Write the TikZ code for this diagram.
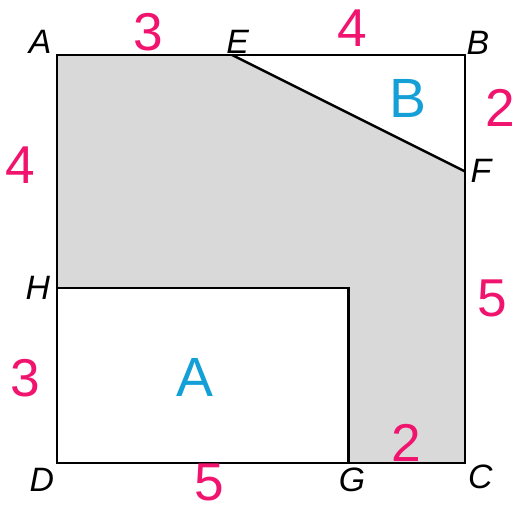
\documentclass[tikz,border=0pt]{standalone}
\usepackage{fontspec}
\setmainfont{Liberation Sans}
\usetikzlibrary{positioning}
\definecolor{lenpink}{RGB}{240,20,110}
\definecolor{areablue}{RGB}{20,160,215}

\begin{document}
\begin{tikzpicture}[line width=1.2pt,
    pt/.style={font=\fontsize{16.5}{16.5}\selectfont\itshape},
    len/.style={text=lenpink, inner sep=0pt, font=\fontsize{26}{26}\selectfont},
    reg/.style={text=areablue, font=\fontsize{27}{27}\selectfont}]

\useasboundingbox (-0.978,-0.823) rectangle (7.873,7.942);

% corner points
\coordinate (A) at (0,7);
\coordinate (E) at (3,7);
\coordinate (B) at (7,7);
\coordinate (F) at (7,5);
\coordinate (C) at (7,0);
\coordinate (G) at (5,0);
\coordinate (D) at (0,0);
\coordinate (H) at (0,3);
\coordinate (K) at (5,3);

% shaded part
\fill[black!15] (A) -- (E) -- (F) -- (C) -- (G) -- (K) -- (H) -- cycle;

\draw (A) -- (B) -- (C) -- (D) -- cycle;
\draw (E) -- (F);
\draw (H) -- (K) -- (G);

% point labels
\node[pt] (lA) at (-0.29,7.22) {A};
\node[pt] (lE) at (3.10,7.22) {E};
\node[pt] (lB) at (7.22,7.20) {B};
\node[pt] (lF) at (7.27,5.01) {F};
\node[pt] (lH) at (-0.33,3.00) {H};
\node[pt] (lD) at (-0.26,-0.29) {D};
\node[pt] (lG) at (5.06,-0.29) {G};
\node[pt] (lC) at (7.26,-0.24) {C};

% lengths
\node[len] (nAE) at (1.56,7.39) {3};
\node[len] (nEB) at (5.06,7.46) {4};
\node[len] (nBF) at (7.60,6.09) {2};
\node[len] (nAH) at (-0.63,5.11) {4};
\node[len] (nFC) at (7.46,2.83) {5};
\node[len] (nHD) at (-0.55,1.46) {3};
\node[len] (nDG) at (2.62,-0.34) {5};
\node[len] (nGC) at (5.99,0.34) {2};

% regions
\node[reg] (rA) at (2.37,1.46) {A};
\node[reg] (rB) at (6.02,6.26) {B};

\end{tikzpicture}
\end{document}
